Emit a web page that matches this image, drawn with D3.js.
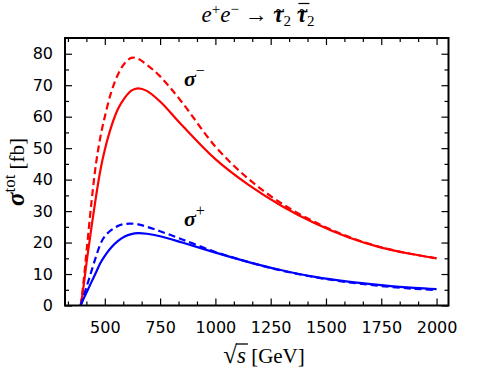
<!DOCTYPE html>
<html>
<head>
<meta charset="utf-8">
<script src="https://cdn.jsdelivr.net/npm/d3@7"></script>
<style>
  body { margin: 0; background: #fff; }
  svg { display: block; }
</style>
</head>
<body>
<div id="chart"></div>
<script>
// sqrt(s) grid in GeV
var sqrtS = [391, 400, 420, 440, 460, 480, 500, 530, 560, 590, 620, 650, 690, 750, 850, 1000, 1150, 1300, 1450, 1600, 1750, 1900, 2000]

// sigma^- (red) and sigma^+ (blue), solid and dashed, in fb
var sigMinusSolid  = [0, 4, 15, 25, 34.5, 43, 49.5, 57, 62.5, 66, 68.3, 69.0, 68.2, 64.8, 57.2, 46.5, 38.3, 31.6, 26.1, 21.7, 18.4, 16.2, 15.0]
var sigMinusDashed = [0, 5, 19, 33, 45, 53.5, 60, 68, 73.5, 77, 78.7, 78.4, 76.5, 72.8, 64.5, 50.5, 40.2, 32.4, 26.5, 21.9, 18.5, 16.2, 15.0]
var sigPlusSolid   = [0, 1.5, 4.5, 7.5, 10.5, 13.5, 15.8, 18.5, 20.5, 21.9, 22.7, 23.0, 22.8, 22.0, 20.0, 16.8, 13.8, 11.2, 9.1, 7.6, 6.5, 5.6, 5.2]
var sigPlusDashed  = [0, 2, 6.5, 11, 15.5, 19.5, 22, 24, 25.3, 25.9, 26.0, 25.8, 25.0, 23.6, 21.0, 17.0, 13.8, 11.1, 9.0, 7.4, 6.2, 5.3, 4.9]

var xTicks = [500, 750, 1000, 1250, 1500, 1750, 2000]
var yTicks = [0, 10, 20, 30, 40, 50, 60, 70, 80]

var width = 504, height = 385
var plotL = 65, plotR = 448.5, plotT = 38, plotB = 305.5

var svg = d3.select('#chart').append('svg')
	.attr('width', width)
	.attr('height', height)

var x = d3.scaleLinear().domain([320, 2054]).range([plotL, plotR])
var y = d3.scaleLinear().domain([0, 85]).range([plotB, plotT])

// minor ticks: 3 per major step on x, 2 on y
var xMinor = d3.range(500 - 250, 2054, 250 / 3).filter(function(v){ return v > 320 && Math.abs((v - 500) / 250 - Math.round((v - 500) / 250)) > 0.01 })
var yMinor = d3.range(5, 85, 10)

var tickFont = '"DejaVu Sans", sans-serif'

function styleAxis(g){
	g.select('.domain').remove()
	g.selectAll('line').attr('stroke', '#000').attr('stroke-width', 1.2)
	g.selectAll('text').style('font-family', tickFont).style('font-size', '16px').attr('fill', '#000')
}

svg.append('g').attr('transform', 'translate(0,' + plotB + ')')
	.call(d3.axisBottom(x).tickValues(xTicks).tickSize(-7).tickPadding(16).tickFormat(d3.format('d')))
	.call(styleAxis)
svg.append('g').attr('transform', 'translate(0,' + plotB + ')')
	.call(d3.axisBottom(x).tickValues(xMinor).tickSize(-4).tickFormat(''))
	.call(styleAxis)
svg.append('g').attr('transform', 'translate(0,' + plotT + ')')
	.call(d3.axisTop(x).tickValues(xTicks).tickSize(-7).tickFormat(''))
	.call(styleAxis)
svg.append('g').attr('transform', 'translate(0,' + plotT + ')')
	.call(d3.axisTop(x).tickValues(xMinor).tickSize(-4).tickFormat(''))
	.call(styleAxis)

svg.append('g').attr('transform', 'translate(' + plotL + ',0)')
	.call(d3.axisLeft(y).tickValues(yTicks).tickSize(-7).tickPadding(12))
	.call(styleAxis)
svg.append('g').attr('transform', 'translate(' + plotL + ',0)')
	.call(d3.axisLeft(y).tickValues(yMinor).tickSize(-4).tickFormat(''))
	.call(styleAxis)
svg.append('g').attr('transform', 'translate(' + plotR + ',0)')
	.call(d3.axisRight(y).tickValues(yTicks).tickSize(-7).tickFormat(''))
	.call(styleAxis)
svg.append('g').attr('transform', 'translate(' + plotR + ',0)')
	.call(d3.axisRight(y).tickValues(yMinor).tickSize(-4).tickFormat(''))
	.call(styleAxis)

// curves
var line = d3.line()
	.x(function(d){ return x(d[0]) })
	.y(function(d){ return y(d[1]) })
	.curve(d3.curveCatmullRom.alpha(0.5))

var series = [
	{vals: sigMinusDashed, color: '#ff0000', dash: '7,4'},
	{vals: sigMinusSolid,  color: '#ff0000', dash: null},
	{vals: sigPlusDashed,  color: '#0000ff', dash: '7,4'},
	{vals: sigPlusSolid,   color: '#0000ff', dash: null}
]

var plot = svg.append('g')
series.forEach(function(s){
	plot.append('path')
		.datum(d3.zip(sqrtS, s.vals))
		.attr('d', line)
		.attr('fill', 'none')
		.attr('stroke', s.color)
		.attr('stroke-width', 2.2)
		.attr('stroke-dasharray', s.dash)
})

// frame
svg.append('rect')
	.attr('x', plotL).attr('y', plotT)
	.attr('width', plotR - plotL).attr('height', plotB - plotT)
	.attr('fill', 'none').attr('stroke', '#000').attr('stroke-width', 2)

var serif = '"Liberation Serif", "DejaVu Serif", serif'

// title: e+e- -> stau2 stau2bar, accents drawn on top
var title = svg.append('text')
	.attr('x', 258).attr('y', 22)
	.attr('text-anchor', 'middle')
	.style('font-family', serif).style('font-size', '23px')
title.append('tspan').style('font-style', 'italic').text('e')
title.append('tspan').attr('dy', -8).style('font-size', '15px').text('+')
title.append('tspan').attr('dy', 8).style('font-style', 'italic').text('e')
title.append('tspan').attr('dy', -8).style('font-size', '15px').text('\u2212')
title.append('tspan').attr('dy', 8).text(' \u2192 ')
title.append('tspan').style('font-style', 'italic').style('font-weight', 'bold').text('\u03c4')
title.append('tspan').attr('dy', 4).style('font-size', '15px').text('2')
title.append('tspan').attr('dy', -4).text(' ')
title.append('tspan').style('font-style', 'italic').style('font-weight', 'bold').text('\u03c4')
title.append('tspan').attr('dy', 4).style('font-size', '15px').text('2')

var tn = title.node()
;[7, 10].forEach(function(i, k){
	var a = tn.getStartPositionOfChar(i), b = tn.getEndPositionOfChar(i)
	var cx = (a.x + b.x) / 2 + 1.5
	svg.append('text').attr('x', cx).attr('y', 16)
		.attr('text-anchor', 'middle')
		.style('font-family', serif).style('font-size', '16px').style('font-weight', 'bold')
		.text('~')
	if (k == 1) {
		svg.append('line')
			.attr('x1', cx - 5).attr('x2', cx + 6)
			.attr('y1', 3.5).attr('y2', 3.5)
			.attr('stroke', '#000').attr('stroke-width', 1.2)
	}
})

// y label
var ylab = svg.append('text')
	.attr('transform', 'translate(24,172) rotate(-90)')
	.attr('text-anchor', 'middle')
	.style('font-family', serif).style('font-size', '21px')
ylab.append('tspan').style('font-style', 'italic').style('font-weight', 'bold').style('font-size', '25px').text('\u03c3')
ylab.append('tspan').attr('dy', -9).style('font-size', '17px').text('tot')
ylab.append('tspan').attr('dy', 9).text(' [fb]')

// x label
var xlab = svg.append('text')
	.attr('x', 264).attr('y', 363)
	.attr('text-anchor', 'middle')
	.style('font-family', serif).style('font-size', '21px')
xlab.append('tspan').style('font-size', '25px').text('\u221a')
xlab.append('tspan').style('font-style', 'italic').style('font-size', '23px').text('s')
xlab.append('tspan').text(' [GeV]')
var node = xlab.node()
var s0 = node.getStartPositionOfChar(1), s1 = node.getEndPositionOfChar(1)
svg.append('line')
	.attr('x1', s0.x - 1).attr('x2', s1.x + 2)
	.attr('y1', 344).attr('y2', 344)
	.attr('stroke', '#000').attr('stroke-width', 1.3)

// curve labels
function sigmaLabel(px, py, sign){
	var t = svg.append('text').attr('x', px).attr('y', py)
		.style('font-family', serif).style('font-size', '22px')
	t.append('tspan').style('font-style', 'italic').style('font-weight', 'bold').text('\u03c3')
	t.append('tspan').attr('dy', -10).style('font-size', '16px').text(sign)
}
sigmaLabel(184, 86, '\u2212')
sigmaLabel(184, 226, '+')
</script>
</body>
</html>
